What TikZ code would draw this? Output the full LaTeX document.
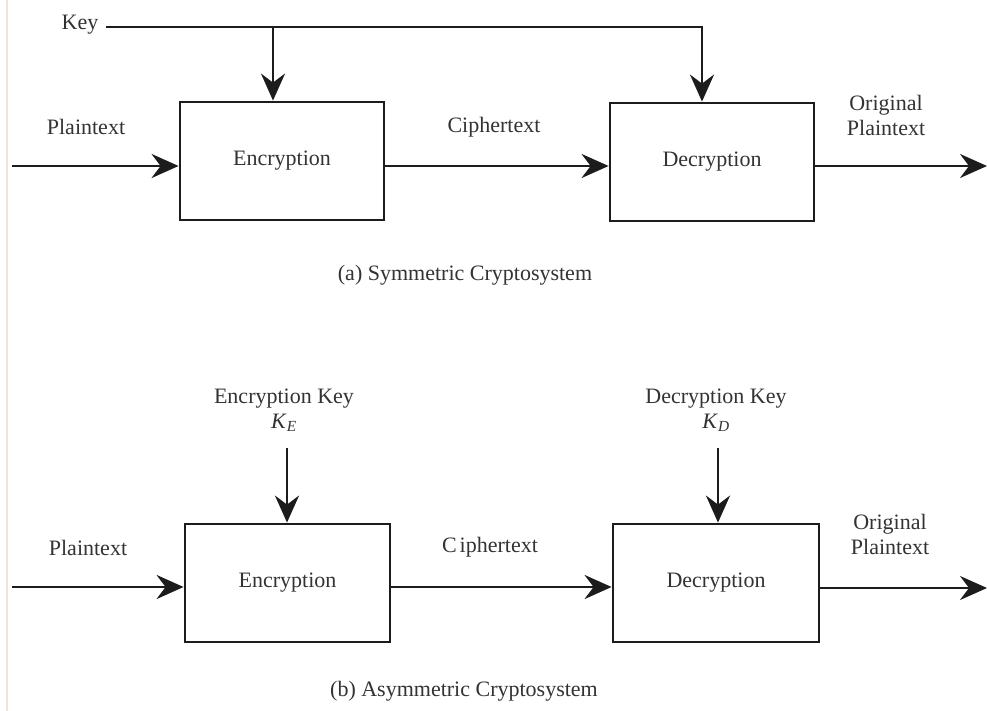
\documentclass[tikz,border=0pt]{standalone}
\usepackage{fontspec}
\setmainfont{Liberation Serif}
\usetikzlibrary{arrows.meta}
\definecolor{ink}{HTML}{1C1C1C}
\definecolor{txt}{HTML}{333333}
\definecolor{edge}{HTML}{EDE3DA}
\begin{document}
\begin{tikzpicture}[x=1pt,y=-1pt,
  block/.style={draw=ink,line width=2.8pt,minimum width=204pt,minimum height=118pt,
    font=\fontsize{22}{24}\selectfont,text=txt,inner sep=0pt},
  lbl/.style={font=\fontsize{22}{25}\selectfont,text=txt,inner sep=1pt,align=center},
  wire/.style={draw=ink,line width=2.6pt},
  arr/.style={wire,-{Stealth[length=27pt,width=24pt,inset=9pt]}}]
  \useasboundingbox[fill=white] (0,0) rectangle (987,711);
  \draw[edge,line width=2pt] (7,0) -- (7,711);

  % (a) symmetric cryptosystem
  \node[block] (enc1) at (282,161) {Encryption};
  \node[block] (dec1) at (712,162) {Decryption};
  \node[lbl] (key) at (80,25) {Key};
  \node[lbl] (pt1) at (86,127) {Plaintext};
  \node[lbl] (ct1) at (494,127) {Ciphertext};
  \node[lbl] (op1) at (886,115) {Original\\Plaintext};
  \node[lbl] (capA) at (465,275) {(a) Symmetric Cryptosystem};
  \coordinate (tapE) at (273,27);
  \coordinate (tapD) at (702,27);
  \coordinate (in1) at (12,166);
  \coordinate (out1) at (987,166);
  \draw[wire] (key.east) ++(6,2) -- (tapE);
  \draw[arr] (tapE) -- (tapD) -- (tapD |- dec1.north);
  \draw[arr] (tapE) -- (tapE |- enc1.north);
  \draw[arr] (in1) -- (in1 -| enc1.west);
  \draw[arr] (enc1.east |- in1) -- (dec1.west |- in1);
  \draw[arr] (dec1.east |- in1) -- (out1);

  % (b) asymmetric cryptosystem
  \node[block,minimum width=205pt] (enc2) at (287.5,583) {Encryption};
  \node[block,minimum width=206pt] (dec2) at (716,583) {Decryption};
  \node[lbl] (ke) at (284,410) {Encryption Key\\\textit{K}\textsubscript{\textit{E}}};
  \node[lbl] (kd) at (716,410) {Decryption Key\\\textit{K}\textsubscript{\textit{D}}};
  \node[lbl] (pt2) at (88,548) {Plaintext};
  \node[lbl] (ct2) at (490,547) {C\kern3pt iphertext};
  \node[lbl] (op2) at (890,534) {Original\\Plaintext};
  \node[lbl] (capB) at (464,691) {(b) Asymmetric Cryptosystem};
  \coordinate (srcE) at (287,448);
  \coordinate (srcD) at (718,448);
  \coordinate (in2) at (12,587);
  \coordinate (out2) at (987,588);
  \draw[arr] (srcE) -- (srcE |- enc2.north);
  \draw[arr] (srcD) -- (srcD |- dec2.north);
  \draw[arr] (in2) -- (in2 -| enc2.west);
  \draw[arr] (enc2.east |- in2) -- (dec2.west |- in2);
  \draw[arr] (dec2.east |- out2) -- (out2);
\end{tikzpicture}
\end{document}
